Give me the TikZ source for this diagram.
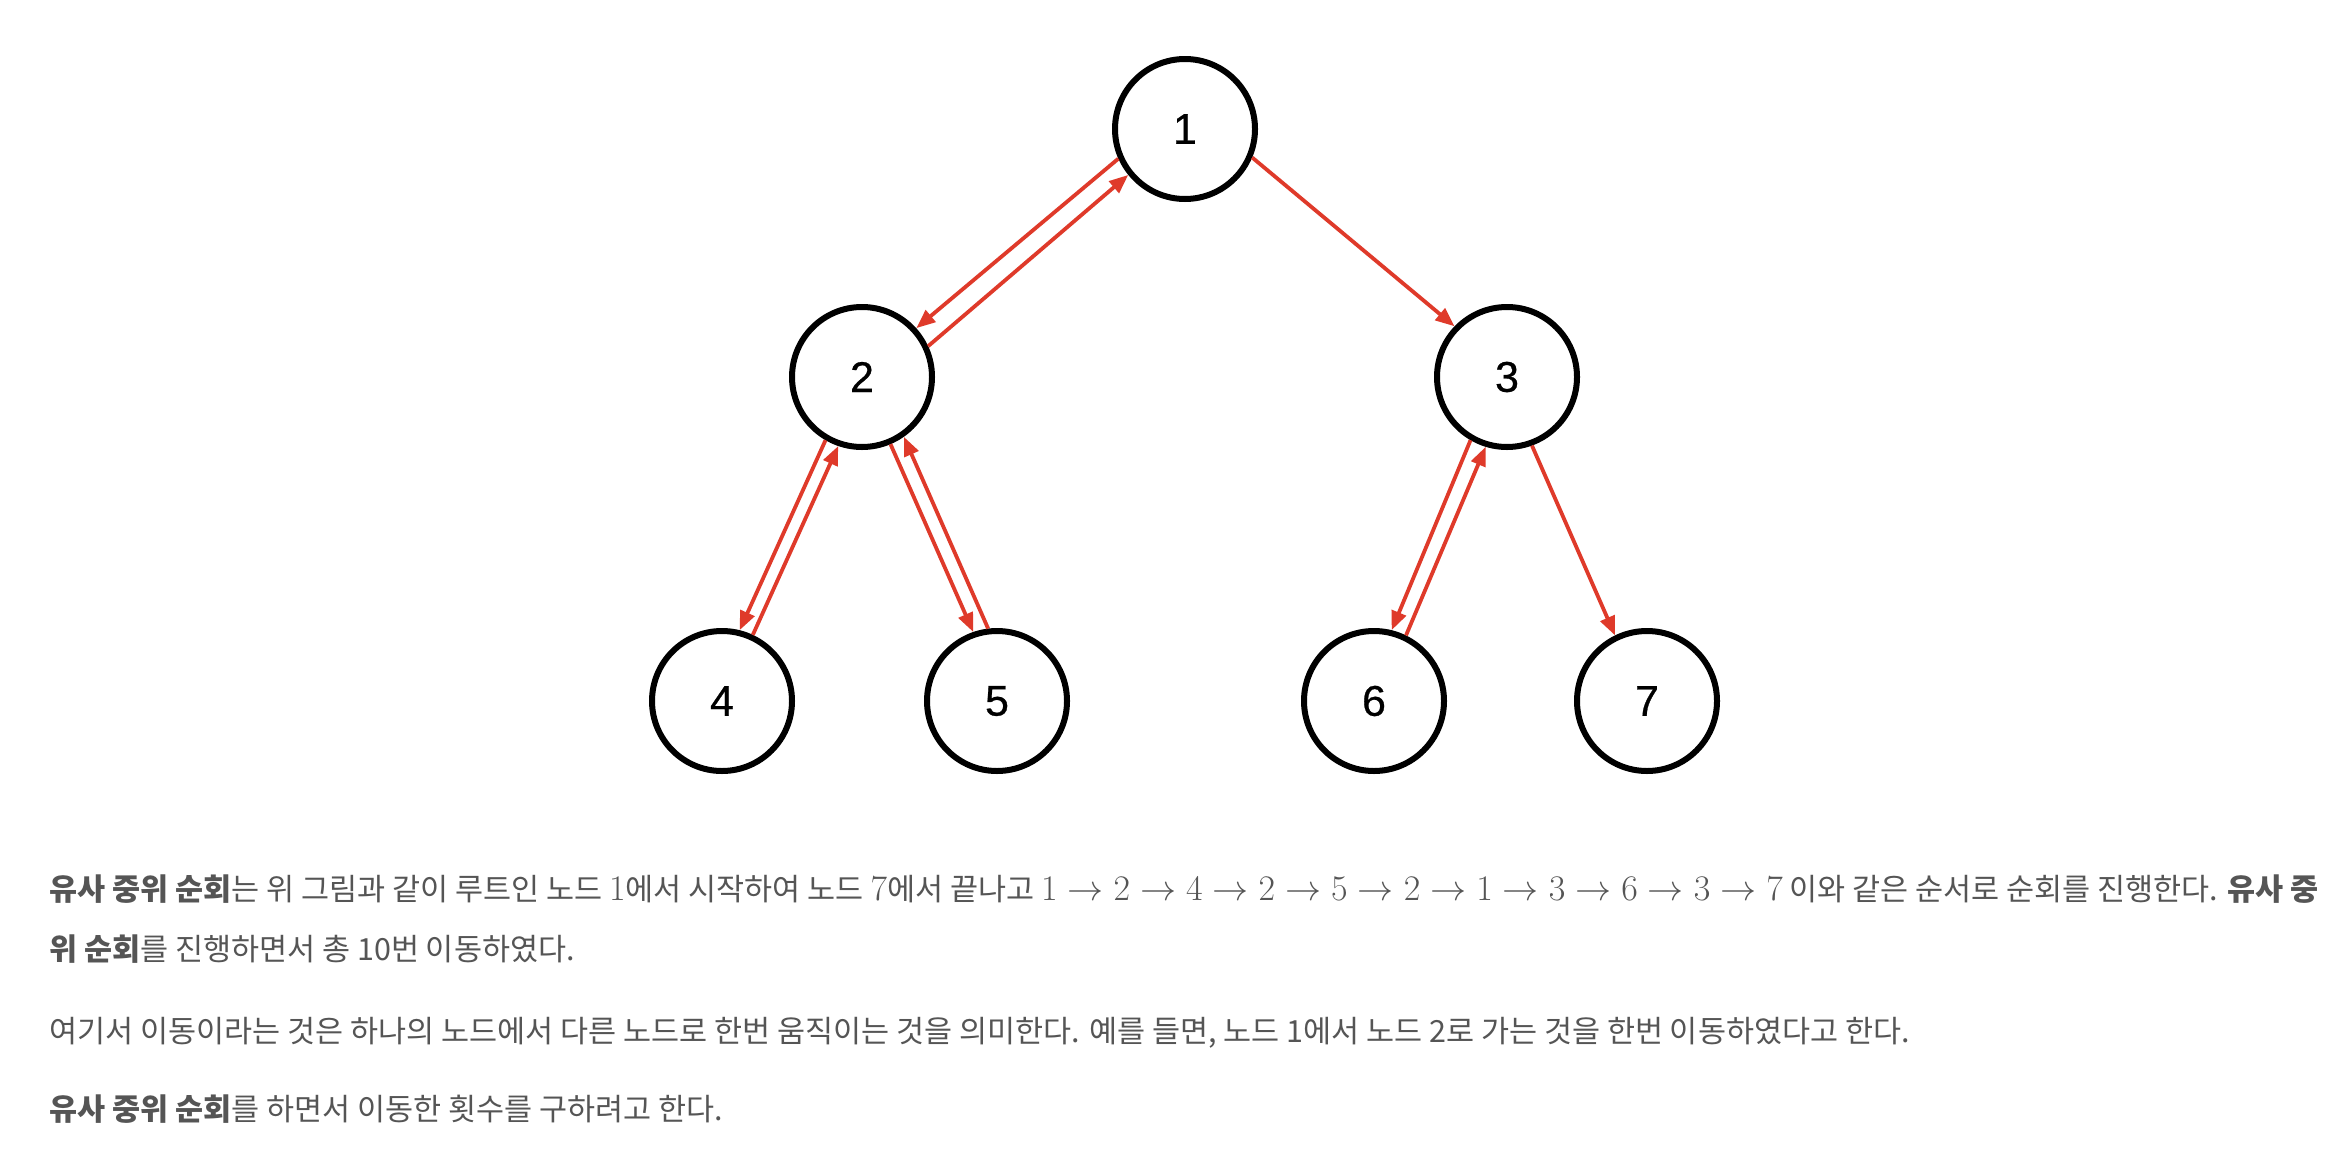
\RequirePackage{fix-cm}
\documentclass[tikz,border=0pt]{standalone}
\usepackage[no-math]{fontspec}
\setmainfont{Noto Sans CJK KR}
\newfontfamily\labelfont[FakeBold=0.6]{Liberation Sans}
\usetikzlibrary{arrows.meta}
\definecolor{movered}{HTML}{DF3A2A}
\definecolor{textgray}{HTML}{555555}
% math in the text is set a little larger than the Hangul
\newcommand{\km}[1]{{\fontsize{36}{40}\selectfont$#1$}}

\begin{document}
\begin{tikzpicture}[
    x=1pt, y=-1pt,
    >={Triangle[length=19pt,width=15pt]},
    vertex/.style={
        draw, circle, line width=6pt, minimum size=140pt, inner sep=0pt, fill=white,
        font=\labelfont\fontsize{43}{50}\selectfont
    },
    move/.style={->, line width=3.8pt, color=movered},
    para/.style={anchor=base west, inner sep=0pt, text=textgray, font=\fontsize{30.5}{40}\selectfont}
]

\useasboundingbox[fill=white] (0,0) rectangle (2348,1162);

% TREE
\node[vertex] (n1) at (1185,129) {1};
\node[vertex] (n2) at (862,377) {2};
\node[vertex] (n3) at (1507,377) {3};
\node[vertex] (n4) at (722,701) {4};
\node[vertex] (n5) at (997,701) {5};
\node[vertex] (n6) at (1374,701) {6};
\node[vertex] (n7) at (1647,701) {7};

% MOVES (down and back up)
\draw[move] (n1.204.5) -- (n2.42.8);
\draw[move] (n2.25.9) -- (n1.219.4);
\draw[move] (n2.240) -- (n4.76);
\draw[move] (n4.65.5) -- (n2.251.3);
\draw[move] (n2.293.5) -- (n5.109.2);
\draw[move] (n5.97.7) -- (n2.305.1);
\draw[move] (n1.-23) -- (n3.136);
\draw[move] (n3.240.7) -- (n6.76.5);
\draw[move] (n6.64.5) -- (n3.253.2);
\draw[move] (n3.290.4) -- (n7.116.2);

% TEXT
\node[para] (line1) at (49,900) {\textbf{유사 중위 순회}는 위 그림과 같이 루트인 노드 \km{1}에서 시작하여 노드 \km{7}에서 끝나고 \km{1 \to 2 \to 4 \to 2 \to 5 \to 2 \to 1 \to 3 \to 6 \to 3 \to 7} 이와 같은 순서로 순회를 진행한다. \textbf{유사 중}};
\node[para] (line2) at (49,960) {\textbf{위 순회}를 진행하면서 총 10번 이동하였다.};
\node[para] (line3) at (49,1042) {여기서 이동이라는 것은 하나의 노드에서 다른 노드로 한번 움직이는 것을 의미한다. 예를 들면, 노드 1에서 노드 2로 가는 것을 한번 이동하였다고 한다.};
\node[para] (line4) at (49,1120) {\textbf{유사 중위 순회}를 하면서 이동한 횟수를 구하려고 한다.};

\end{tikzpicture}
\end{document}
